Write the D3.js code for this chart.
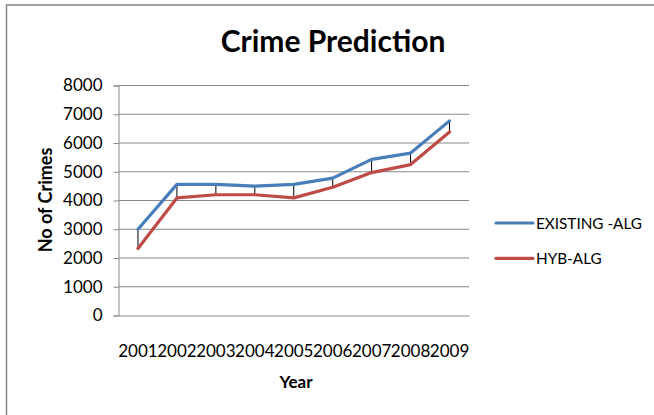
<!DOCTYPE html>
<html><head><meta charset="utf-8">
<script src="https://cdn.jsdelivr.net/npm/d3@7"></script>
<style>html,body{margin:0;padding:0;background:#fff;}svg{display:block;}</style>
</head><body>
<script>
const years = ["2001","2002","2003","2004","2005","2006","2007","2008","2009"];
const existingAlg = [3000, 4560, 4560, 4500, 4560, 4780, 5430, 5650, 6770];
const hybAlg = [2330, 4090, 4200, 4200, 4090, 4460, 4970, 5250, 6380];
const yTicks = [0,1000,2000,3000,4000,5000,6000,7000,8000];
const seriesNames = ["EXISTING -ALG", "HYB-ALG"];
const seriesColors = ["#4A7EBB", "#BE4B48"];

const W = 654, H = 415;
const font = "Lato, 'Open Sans', sans-serif";
const svg = d3.select("body").append("svg").attr("width", W).attr("height", H);
svg.append("rect").attr("width", W).attr("height", H).attr("fill", "#fff");
svg.append("rect").attr("x", 6.5).attr("y", 5).attr("width", 800).attr("height", 600)
  .attr("fill", "none").attr("stroke", "#8a8a8a").attr("stroke-width", 1.6);

const x = d3.scaleBand().domain(years).range([118.5, 469]).padding(0);
const y = d3.scaleLinear().domain([0, 8000]).range([315.5, 85.5]);

// gridlines
svg.append("g").selectAll("line").data(yTicks.filter(d => d > 0)).join("line")
  .attr("x1", 118.5).attr("x2", 469).attr("y1", d => y(d)).attr("y2", d => y(d))
  .attr("stroke", "#888").attr("stroke-width", 1);

// y axis
const yAxis = svg.append("g").attr("transform", "translate(118.5,0)")
  .call(d3.axisLeft(y).tickValues(yTicks).tickSize(5).tickPadding(11).tickFormat(d3.format("d")));
yAxis.select(".domain").attr("stroke", "#888");
yAxis.selectAll(".tick line").attr("stroke", "#888");
yAxis.selectAll("text").attr("font-family", font).attr("font-size", 17).attr("fill", "#000");

// x axis line
const xAxis = svg.append("g").attr("transform", "translate(0,315.5)")
  .call(d3.axisBottom(x).tickSize(0).tickPadding(0));
xAxis.select(".domain").attr("stroke", "#888");
xAxis.selectAll("text").attr("font-family", font).attr("font-size", 17).attr("fill", "#000")
  .attr("dy", 0).attr("y", 41.5);

// drop lines
svg.append("g").selectAll("line").data(years).join("line")
  .attr("x1", d => x(d) + x.bandwidth()/2).attr("x2", d => x(d) + x.bandwidth()/2)
  .attr("y1", (d,i) => y(existingAlg[i])).attr("y2", (d,i) => y(hybAlg[i]))
  .attr("stroke", "#000").attr("stroke-width", 1);

const line = d3.line().x((d,i) => x(years[i]) + x.bandwidth()/2).y(d => y(d));
[existingAlg, hybAlg].forEach((s, k) => {
  svg.append("path").datum(s).attr("d", line).attr("fill", "none")
    .attr("stroke", seriesColors[k]).attr("stroke-width", 3.2)
    .attr("stroke-linejoin", "round").attr("stroke-linecap", "round");
});

// title
svg.append("text").attr("x", 333).attr("y", 52).attr("text-anchor", "middle")
  .attr("font-family", font).attr("font-weight", "bold").attr("font-size", 30).text("Crime Prediction");

// axis titles
svg.append("text").attr("x", 296).attr("y", 388).attr("text-anchor", "middle")
  .attr("font-family", font).attr("font-weight", "bold").attr("font-size", 17).text("Year");
svg.append("text").attr("transform", "translate(52,200) rotate(-90)").attr("text-anchor", "middle")
  .attr("font-family", font).attr("font-weight", "bold").attr("font-size", 18).text("No of Crimes");

// legend
const leg = svg.append("g");
seriesNames.forEach((n, k) => {
  const ly = 223 + k * 35.3;
  leg.append("line").attr("x1", 496).attr("x2", 533).attr("y1", ly).attr("y2", ly)
    .attr("stroke", seriesColors[k]).attr("stroke-width", 3.2).attr("stroke-linecap", "round");
  leg.append("text").attr("x", 536).attr("y", ly + 6).attr("font-family", font)
    .attr("font-size", 15.3).text(n);
});
</script>
</body></html>
